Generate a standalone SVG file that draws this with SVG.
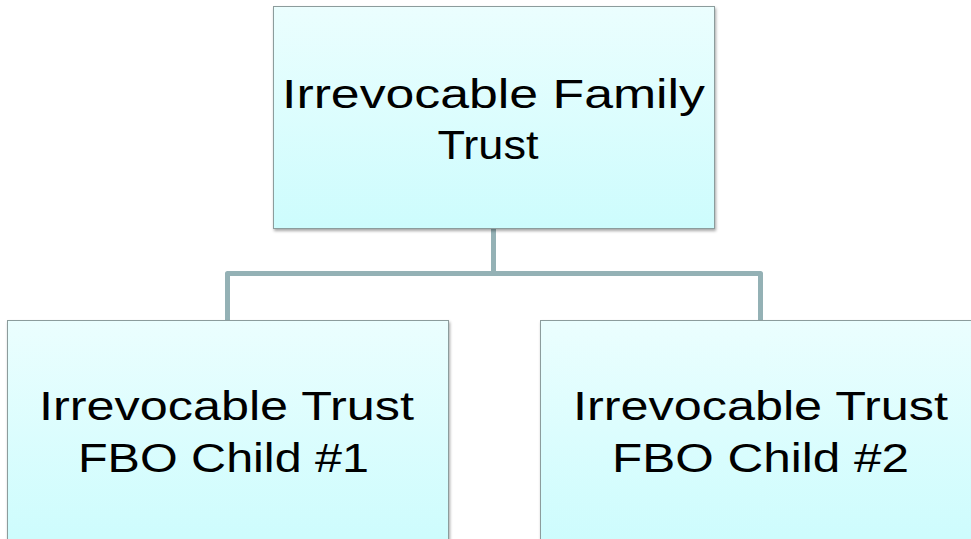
<svg xmlns="http://www.w3.org/2000/svg" width="971" height="539" viewBox="0 0 971 539">
<style>
.box{fill:url(#g);stroke:#8c9c9c;stroke-width:1;filter:url(#sh)}
.t{font-family:"Liberation Sans",Arial,sans-serif;font-size:40px;fill:#000;text-anchor:middle}
.c{fill:none;stroke:#94b1b5;stroke-width:5;stroke-linejoin:round}
</style>
<defs>
<linearGradient id="g" x1="0" y1="0" x2="0" y2="1">
<stop offset="0" stop-color="#ebfefe"/>
<stop offset="1" stop-color="#cdfcfd"/>
</linearGradient>
<filter id="sh" x="-5%" y="-5%" width="110%" height="115%">
<feDropShadow dx="1" dy="2" stdDeviation="1.5" flood-color="#000" flood-opacity="0.35"/>
</filter>
</defs>
<g id="connectors">
<path class="c" d="M493.5 228 V273.5 M227.5 320 V273.5 H760.5 V320"/>
</g>
<g id="node-top">
<rect class="box" x="273.5" y="6.5" width="441" height="222"/>
<text class="t" x="493.5" y="108" textLength="423" lengthAdjust="spacingAndGlyphs">Irrevocable Family</text>
<text class="t" x="488" y="159" textLength="101" lengthAdjust="spacingAndGlyphs">Trust</text>
</g>
<g id="node-child1">
<rect class="box" x="7.5" y="320.5" width="441" height="222"/>
<text class="t" x="226.5" y="420" textLength="375" lengthAdjust="spacingAndGlyphs">Irrevocable Trust</text>
<text class="t" x="223.5" y="472" textLength="291" lengthAdjust="spacingAndGlyphs">FBO Child #1</text>
</g>
<g id="node-child2">
<rect class="box" x="540.5" y="320.5" width="441" height="222"/>
<text class="t" x="760.5" y="420" textLength="375" lengthAdjust="spacingAndGlyphs">Irrevocable Trust</text>
<text class="t" x="760.5" y="472" textLength="297" lengthAdjust="spacingAndGlyphs">FBO Child #2</text>
</g>
</svg>
